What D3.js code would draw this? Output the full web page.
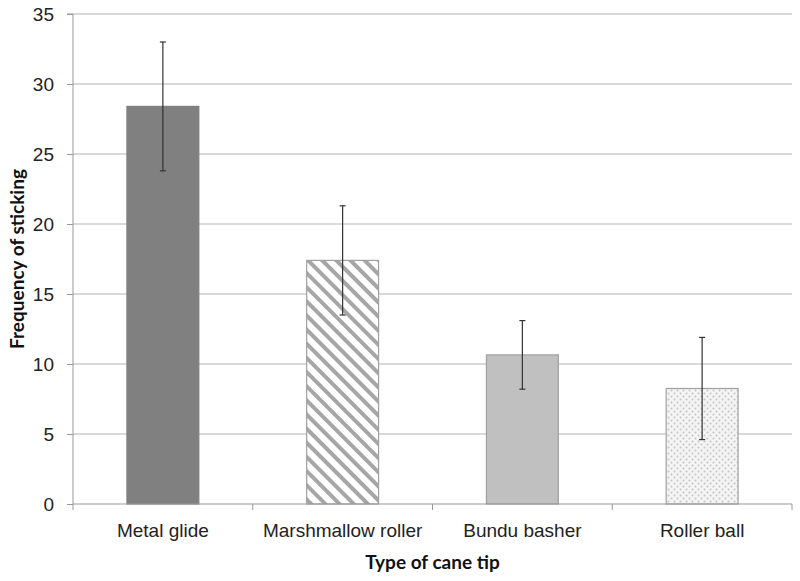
<!DOCTYPE html>
<meta charset="utf-8">
<style>
    body { margin: 0; background: #fff; }
    svg { font-family: Lato, "Open Sans", sans-serif; }
    .tick text { fill: #222; }
</style>
<body>
<script src="https://cdn.jsdelivr.net/npm/d3@7"></script>
<script>
    // data
    const categories = ["Metal glide", "Marshmallow roller", "Bundu basher", "Roller ball"];
    const means = [28.4, 17.4, 10.65, 8.25];
    const errors = [4.6, 3.9, 2.45, 3.65];
    const yTicks = [0, 5, 10, 15, 20, 25, 30, 35];

    const width = 800, height = 581;
    const margin = {top: 14, right: 8, bottom: 77, left: 73};
    const w = width - margin.left - margin.right;
    const h = height - margin.top - margin.bottom;

    const svg = d3.select("body").append("svg")
        .attr("width", width)
        .attr("height", height);

    // fill patterns
    const defs = svg.append("defs");
    const stripes = defs.append("pattern")
        .attr("id", "stripes")
        .attr("patternUnits", "userSpaceOnUse")
        .attr("width", 10).attr("height", 10)
        .attr("patternTransform", "rotate(-45)");
    stripes.append("rect").attr("width", 10).attr("height", 10).attr("fill", "#fff");
    stripes.append("rect").attr("width", 4).attr("height", 10).attr("fill", "#a6a6a6");

    const dots = defs.append("pattern")
        .attr("id", "dots")
        .attr("patternUnits", "userSpaceOnUse")
        .attr("width", 6).attr("height", 6);
    dots.append("rect").attr("width", 6).attr("height", 6).attr("fill", "#f4f4f4");
    dots.append("circle").attr("cx", 1.5).attr("cy", 1.5).attr("r", 1).attr("fill", "#c4c4c4");
    dots.append("circle").attr("cx", 4.5).attr("cy", 4.5).attr("r", 1).attr("fill", "#c4c4c4");

    const fills = ["#808080", "url(#stripes)", "#c0c0c0", "url(#dots)"];
    const strokes = ["#808080", "#a0a0a0", "#a0a0a0", "#a0a0a0"];

    const g = svg.append("g").attr("transform", `translate(${margin.left},${margin.top})`);

    const x = d3.scaleBand().domain(categories).range([0, w]).paddingInner(0.6).paddingOuter(0.3);
    const y = d3.scaleLinear().domain([0, 35]).range([h, 0]);

    // gridlines
    g.append("g")
        .selectAll("line")
        .data(yTicks.slice(1))
        .enter().append("line")
        .attr("x1", 0).attr("x2", w)
        .attr("y1", d => y(d)).attr("y2", d => y(d))
        .attr("stroke", "#b3b3b3").attr("stroke-width", 1.2);

    // y axis
    const yAxis = g.append("g")
        .call(d3.axisLeft(y).tickValues(yTicks).tickSize(6).tickPadding(13));
    yAxis.selectAll("line, path").attr("stroke", "#999");
    yAxis.select(".domain").attr("d", `M-6,0H0V${h}`);
    yAxis.selectAll(".tick text").style("font-size", "19px");

    // bars
    g.selectAll(".bar")
        .data(categories)
        .enter().append("rect")
        .attr("class", "bar")
        .attr("x", d => x(d))
        .attr("width", x.bandwidth())
        .attr("y", (d, i) => y(means[i]))
        .attr("height", (d, i) => h - y(means[i]))
        .attr("fill", (d, i) => fills[i])
        .attr("stroke", (d, i) => strokes[i])
        .attr("stroke-width", 1.2);

    // x axis
    const xOuter = d3.scaleBand().domain(categories).range([0, w]);
    const xAxis = g.append("g")
        .attr("transform", `translate(0,${h})`)
        .call(d3.axisBottom(xOuter).tickSize(0).tickPadding(20));
    xAxis.select(".domain").attr("stroke", "#999").attr("d", `M0,6V0H${w}V6`);
    xAxis.selectAll(".tick text").style("font-size", "19px");
    g.append("g").selectAll("line")
        .data(d3.range(1, categories.length))
        .enter().append("line")
        .attr("x1", i => i * xOuter.step()).attr("x2", i => i * xOuter.step())
        .attr("y1", h).attr("y2", h + 6)
        .attr("stroke", "#999");

    // error bars
    const eb = g.append("g").attr("stroke", "#333").attr("stroke-width", 1.2);
    categories.forEach((c, i) => {
        const cx = x(c) + x.bandwidth() / 2;
        eb.append("line").attr("x1", cx).attr("x2", cx)
            .attr("y1", y(means[i] + errors[i])).attr("y2", y(means[i] - errors[i]));
        [means[i] + errors[i], means[i] - errors[i]].forEach(v => {
            eb.append("line").attr("x1", cx - 3).attr("x2", cx + 3)
                .attr("y1", y(v)).attr("y2", y(v));
        });
    });

    // axis titles
    svg.append("text")
        .attr("x", margin.left + w / 2)
        .attr("y", 569)
        .attr("text-anchor", "middle")
        .style("font-size", "19px").style("font-weight", "bold").attr("fill", "#111")
        .text("Type of cane tip");

    svg.append("text")
        .attr("transform", `translate(24,${margin.top + h / 2}) rotate(-90)`)
        .attr("text-anchor", "middle")
        .style("font-size", "19px").style("font-weight", "bold").attr("fill", "#111")
        .text("Frequency of sticking");
</script>
</body>
</html>
